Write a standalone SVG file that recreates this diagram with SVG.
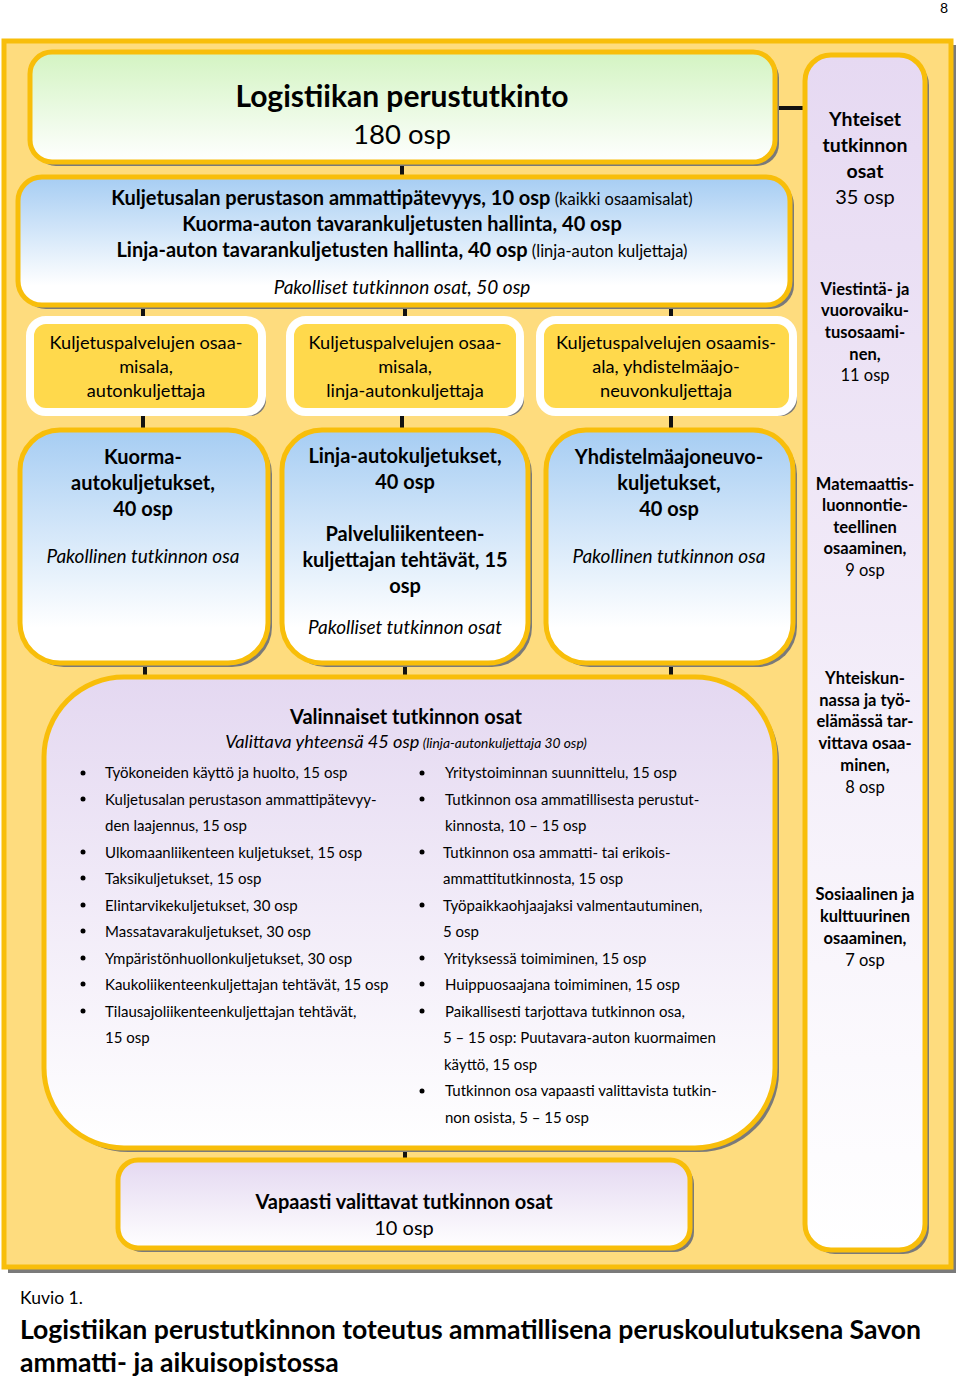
<svg xmlns="http://www.w3.org/2000/svg" width="960" height="1378" viewBox="0 0 960 1378">
<defs>
<linearGradient id="gGreen" x1="0" y1="0" x2="0" y2="1"><stop offset="0" stop-color="#D3F4C2"/><stop offset="1" stop-color="#FFFFFF"/></linearGradient>
<linearGradient id="gBlue" x1="0" y1="0" x2="0" y2="1"><stop offset="0" stop-color="#A6CDF3"/><stop offset="0.85" stop-color="#FFFFFF"/></linearGradient>
<linearGradient id="gPurple" x1="0" y1="0" x2="0" y2="1"><stop offset="0" stop-color="#E4D8F1"/><stop offset="1" stop-color="#FFFFFF"/></linearGradient>
<linearGradient id="gSide" x1="0" y1="0" x2="0" y2="1"><stop offset="0" stop-color="#E6D9F2"/><stop offset="1" stop-color="#FFFFFF"/></linearGradient>
<style>
text{font-family:Lato,"Liberation Sans",sans-serif;fill:#000;text-anchor:middle}
.b{font-weight:bold}
.i{font-style:italic}
.l{text-anchor:start}
.shadow{fill:#7A7A7A}
.gold{stroke:#F8BE0A;stroke-width:5}
.ybox{fill:#FFD94C;stroke:#FFFFFF;stroke-width:8}
.conn{stroke:#111;stroke-width:4;fill:none}
.t18{font-size:18.2px}
.t20{font-size:20px}
.it{font-size:19px;font-style:italic}
.t15{font-size:15px}
.s16{font-size:16.5px}
</style>
</defs>
<rect width="960" height="1378" fill="#FFFFFF"/>
<text x="944" y="13" style="font-size:14px">8</text>

<g id="frame">
<rect x="8" y="45" width="948" height="1228" class="shadow"/>
<rect x="4" y="41" width="947" height="1226" fill="#FEDC7E" stroke="#F8BE0A" stroke-width="5"/>
</g>

<g id="connectors">
<line class="conn" x1="402" y1="162" x2="402" y2="178"/>
<line class="conn" x1="778" y1="108" x2="803" y2="108"/>
<line class="conn" x1="143" y1="305" x2="143" y2="320"/>
<line class="conn" x1="405" y1="305" x2="405" y2="320"/>
<line class="conn" x1="671" y1="305" x2="671" y2="320"/>
<line class="conn" x1="143" y1="412" x2="143" y2="430"/>
<line class="conn" x1="402" y1="412" x2="402" y2="430"/>
<line class="conn" x1="671" y1="412" x2="671" y2="430"/>
<line class="conn" x1="145" y1="663" x2="145" y2="678"/>
<line class="conn" x1="405" y1="663" x2="405" y2="678"/>
<line class="conn" x1="671" y1="663" x2="671" y2="678"/>
<line class="conn" x1="405" y1="1148" x2="405" y2="1162"/>
</g>

<g id="side">
<rect x="809" y="59" width="120" height="1195" rx="26" class="shadow"/>
<rect x="805" y="55" width="120" height="1195" rx="26" fill="url(#gSide)" class="gold"/>
<text x="865" y="126" class="b" style="font-size:19.5px">Yhteiset</text>
<text x="865" y="152" class="b" style="font-size:19.5px">tutkinnon</text>
<text x="865" y="178" class="b" style="font-size:19.5px">osat</text>
<text x="865" y="204" style="font-size:20px">35 osp</text>
<g class="s16">
<text x="865" y="295" class="b">Viestintä- ja</text>
<text x="865" y="316" class="b">vuorovaiku-</text>
<text x="865" y="338" class="b">tusosaami-</text>
<text x="865" y="360" class="b">nen,</text>
<text x="865" y="381">11 osp</text>
<text x="865" y="490" class="b">Matemaattis-</text>
<text x="865" y="511" class="b">luonnontie-</text>
<text x="865" y="533" class="b">teellinen</text>
<text x="865" y="554" class="b">osaaminen,</text>
<text x="865" y="576">9 osp</text>
<text x="865" y="684" class="b">Yhteiskun-</text>
<text x="865" y="706" class="b">nassa ja työ-</text>
<text x="865" y="727" class="b">elämässä tar-</text>
<text x="865" y="749" class="b">vittava osaa-</text>
<text x="865" y="771" class="b">minen,</text>
<text x="865" y="793">8 osp</text>
<text x="865" y="900" class="b">Sosiaalinen ja</text>
<text x="865" y="922" class="b">kulttuurinen</text>
<text x="865" y="944" class="b">osaaminen,</text>
<text x="865" y="966">7 osp</text>
</g>
</g>

<g id="title">
<rect x="34" y="56" width="745" height="110" rx="22" class="shadow"/>
<rect x="30" y="52" width="745" height="110" rx="22" fill="url(#gGreen)" class="gold"/>
<text x="402" y="107" class="b" style="font-size:30px">Logistiikan perustutkinto</text>
<text x="402" y="144" style="font-size:27.5px">180 osp</text>
</g>

<g id="pakolliset">
<rect x="22" y="181" width="772" height="128" rx="24" class="shadow"/>
<rect x="18" y="177" width="772" height="128" rx="24" fill="url(#gBlue)" class="gold"/>
<text x="402" y="205" class="t20"><tspan class="b">Kuljetusalan perustason ammattipätevyys, 10 osp</tspan><tspan style="font-size:16.5px"> (kaikki osaamisalat)</tspan></text>
<text x="402" y="231" class="t20 b">Kuorma-auton tavarankuljetusten hallinta, 40 osp</text>
<text x="402" y="257" class="t20"><tspan class="b">Linja-auton tavarankuljetusten hallinta, 40 osp</tspan><tspan style="font-size:16.5px"> (linja-auton kuljettaja)</tspan></text>
<text x="402" y="294" class="it">Pakolliset tutkinnon osat, 50 osp</text>
</g>

<g id="ala1">
<rect x="34" y="324" width="232" height="92" rx="16" class="shadow"/>
<rect x="30" y="320" width="232" height="92" rx="16" class="ybox"/>
<text x="146" y="349" class="t18">Kuljetuspalvelujen osaa-</text>
<text x="146" y="373" class="t18">misala,</text>
<text x="146" y="397" class="t18">autonkuljettaja</text>
</g>
<g id="ala2">
<rect x="294" y="324" width="230" height="92" rx="16" class="shadow"/>
<rect x="290" y="320" width="230" height="92" rx="16" class="ybox"/>
<text x="405" y="349" class="t18">Kuljetuspalvelujen osaa-</text>
<text x="405" y="373" class="t18">misala,</text>
<text x="405" y="397" class="t18">linja-autonkuljettaja</text>
</g>
<g id="ala3">
<rect x="544" y="324" width="253" height="92" rx="16" class="shadow"/>
<rect x="540" y="320" width="253" height="92" rx="16" class="ybox"/>
<text x="666" y="349" class="t18">Kuljetuspalvelujen osaamis-</text>
<text x="666" y="373" class="t18">ala, yhdistelmäajo-</text>
<text x="666" y="397" class="t18">neuvonkuljettaja</text>
</g>

<g id="kuorma">
<rect x="24" y="434" width="248" height="233" rx="40" class="shadow"/>
<rect x="20" y="430" width="248" height="233" rx="40" fill="url(#gBlue)" class="gold"/>
<text x="143" y="464" class="b t20">Kuorma-</text>
<text x="143" y="490" class="b t20">autokuljetukset,</text>
<text x="143" y="516" class="b t20">40 osp</text>
<text x="143" y="563" class="it">Pakollinen tutkinnon osa</text>
</g>
<g id="linja">
<rect x="286" y="434" width="246" height="233" rx="40" class="shadow"/>
<rect x="282" y="430" width="246" height="233" rx="40" fill="url(#gBlue)" class="gold"/>
<text x="405" y="463" class="b t20">Linja-autokuljetukset,</text>
<text x="405" y="489" class="b t20">40 osp</text>
<text x="405" y="541" class="b t20">Palveluliikenteen-</text>
<text x="405" y="567" class="b t20">kuljettajan tehtävät, 15</text>
<text x="405" y="593" class="b t20">osp</text>
<text x="405" y="634" class="it">Pakolliset tutkinnon osat</text>
</g>
<g id="yhdistelma">
<rect x="550" y="434" width="247" height="233" rx="40" class="shadow"/>
<rect x="546" y="430" width="247" height="233" rx="40" fill="url(#gBlue)" class="gold"/>
<text x="669" y="464" class="b t20">Yhdistelmäajoneuvo-</text>
<text x="669" y="490" class="b t20">kuljetukset,</text>
<text x="669" y="516" class="b t20">40 osp</text>
<text x="669" y="563" class="it">Pakollinen tutkinnon osa</text>
</g>

<g id="valinnaiset">
<rect x="48" y="681" width="731" height="471" rx="80" class="shadow"/>
<rect x="44" y="677" width="731" height="471" rx="80" fill="url(#gPurple)" class="gold"/>
<text x="406" y="724" class="b t20">Valinnaiset tutkinnon osat</text>
<text x="406" y="748" class="i" style="font-size:18.2px">Valittava yhteensä 45 osp<tspan style="font-size:13.8px"> (linja-autonkuljettaja 30 osp)</tspan></text>
<g fill="#000">
<circle cx="83" cy="773" r="2.5"/><circle cx="83" cy="799" r="2.5"/><circle cx="83" cy="852" r="2.5"/><circle cx="83" cy="878" r="2.5"/><circle cx="83" cy="905" r="2.5"/><circle cx="83" cy="931" r="2.5"/><circle cx="83" cy="958" r="2.5"/><circle cx="83" cy="984" r="2.5"/><circle cx="83" cy="1011" r="2.5"/>
<circle cx="422" cy="773" r="2.5"/><circle cx="422" cy="799" r="2.5"/><circle cx="422" cy="852" r="2.5"/><circle cx="422" cy="905" r="2.5"/><circle cx="422" cy="958" r="2.5"/><circle cx="422" cy="984" r="2.5"/><circle cx="422" cy="1011" r="2.5"/><circle cx="422" cy="1091" r="2.5"/>
</g>
<g class="t15">
<text x="105" y="778" class="l">Työkoneiden käyttö ja huolto, 15 osp</text>
<text x="105" y="805" class="l">Kuljetusalan perustason ammattipätevyy-</text>
<text x="105" y="831" class="l">den laajennus, 15 osp</text>
<text x="105" y="858" class="l">Ulkomaanliikenteen kuljetukset, 15 osp</text>
<text x="105" y="884" class="l">Taksikuljetukset, 15 osp</text>
<text x="105" y="911" class="l">Elintarvikekuljetukset, 30 osp</text>
<text x="105" y="937" class="l">Massatavarakuljetukset, 30 osp</text>
<text x="105" y="964" class="l">Ympäristönhuollonkuljetukset, 30 osp</text>
<text x="105" y="990" class="l">Kaukoliikenteenkuljettajan tehtävät, 15 osp</text>
<text x="105" y="1017" class="l">Tilausajoliikenteenkuljettajan tehtävät,</text>
<text x="105" y="1043" class="l">15 osp</text>
<text x="445" y="778" class="l">Yritystoiminnan suunnittelu, 15 osp</text>
<text x="445" y="805" class="l">Tutkinnon osa ammatillisesta perustut-</text>
<text x="445" y="831" class="l">kinnosta, 10 – 15 osp</text>
<text x="443" y="858" class="l">Tutkinnon osa ammatti- tai erikois-</text>
<text x="443" y="884" class="l">ammattitutkinnosta, 15 osp</text>
<text x="443" y="911" class="l">Työpaikkaohjaajaksi valmentautuminen,</text>
<text x="443" y="937" class="l">5 osp</text>
<text x="444" y="964" class="l">Yrityksessä toimiminen, 15 osp</text>
<text x="445" y="990" class="l">Huippuosaajana toimiminen, 15 osp</text>
<text x="445" y="1017" class="l">Paikallisesti tarjottava tutkinnon osa,</text>
<text x="443" y="1043" class="l">5 – 15 osp: Puutavara-auton kuormaimen</text>
<text x="444" y="1070" class="l">käyttö, 15 osp</text>
<text x="445" y="1096" class="l">Tutkinnon osa vapaasti valittavista tutkin-</text>
<text x="445" y="1123" class="l">non osista, 5 – 15 osp</text>
</g>
</g>

<g id="vapaasti">
<rect x="122" y="1164" width="572" height="88" rx="20" class="shadow"/>
<rect x="118" y="1160" width="572" height="88" rx="20" fill="url(#gPurple)" class="gold"/>
<text x="404" y="1209" class="b t20">Vapaasti valittavat tutkinnon osat</text>
<text x="404" y="1235" class="t20">10 osp</text>
</g>

<g id="caption">
<text x="20" y="1304" class="l" style="font-size:17.5px">Kuvio 1.</text>
<text x="20" y="1339" class="l b" style="font-size:26.6px">Logistiikan perustutkinnon toteutus ammatillisena peruskoulutuksena Savon</text>
<text x="20" y="1372" class="l b" style="font-size:26.6px">ammatti- ja aikuisopistossa</text>
</g>
</svg>
